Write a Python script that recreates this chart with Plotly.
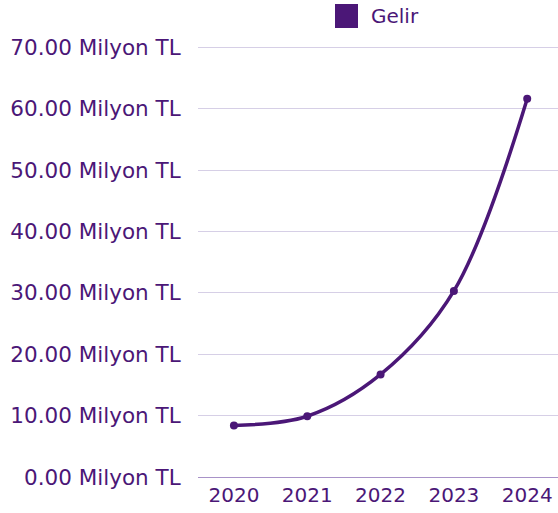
import plotly.graph_objects as go

years = ["2020", "2021", "2022", "2023", "2024"]
gelir = [8.4, 9.9, 16.7, 30.3, 61.6]
y_ticks = [0, 10, 20, 30, 40, 50, 60, 70]
y_labels = [f"{v:.2f} Milyon TL" for v in y_ticks]
series_name = "Gelir"

purple = "#4b1777"
font_family = "DejaVu Sans"

fig = go.Figure()
fig.add_trace(go.Scatter(
    x=years, y=gelir, name=series_name, mode="lines+markers",
    line=dict(color=purple, width=3.5, shape="spline", smoothing=1.0),
    marker=dict(color=purple, size=8),
    showlegend=False,
))
fig.update_layout(
    width=558, height=513,
    margin=dict(l=198, r=0, t=46, b=36, autoexpand=False),
    paper_bgcolor="white", plot_bgcolor="white",
    font=dict(family=font_family, size=20, color=purple),
    showlegend=False,
    xaxis=dict(type="category", range=[-0.49, 4.42], showgrid=False,
               showline=True, linecolor="#a892c8", linewidth=1, ticks="",
               automargin=False, tickfont=dict(size=20, color=purple)),
    yaxis=dict(range=[0, 70.2], tickvals=y_ticks, ticktext=y_labels,
               showgrid=True, gridcolor="#d6cfe6", gridwidth=1, zeroline=False,
               ticks="outside", ticklen=12, tickcolor="rgba(0,0,0,0)",
               automargin=False, tickfont=dict(size=21.5, color=purple)),
    shapes=[dict(type="rect", xref="paper", yref="paper",
                 x0=(335 - 198) / 360, x1=(358 - 198) / 360,
                 y0=(477 - 28) / 431, y1=(477 - 4) / 431,
                 fillcolor=purple, line=dict(width=0))],
    annotations=[dict(text=series_name, xref="paper", yref="paper",
                      x=(369 - 198) / 360, y=(477 - 16) / 431,
                      xanchor="left", yanchor="middle", showarrow=False,
                      font=dict(size=20, color=purple))],
)
fig.write_html("out.html", config={"displayModeBar": False},
               post_script="document.body.style.margin='0';document.body.style.overflow='hidden';")
